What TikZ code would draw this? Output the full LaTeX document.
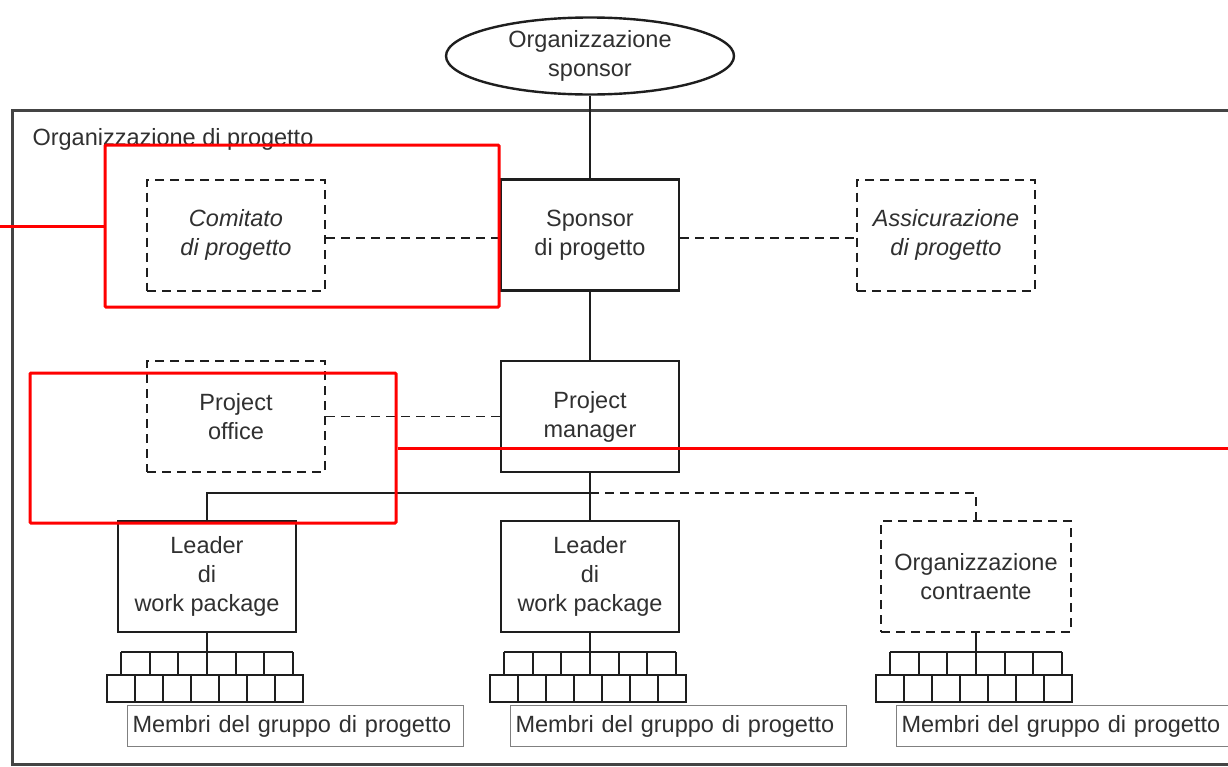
\documentclass[tikz,border=0pt]{standalone}
\usepackage{fontspec}
\setmainfont{Liberation Sans}
\usetikzlibrary{shapes.geometric}
\definecolor{ink}{HTML}{1E1E1E}
\definecolor{txt}{HTML}{303030}
\definecolor{framec}{HTML}{444444}
\definecolor{redmark}{HTML}{FF0000}
\tikzset{
  every node/.style={font=\fontsize{23.5}{29}\selectfont, text=txt, align=center},
  solidbox/.style={draw=ink, line width=2.3pt, minimum width=178pt, minimum height=111pt, inner sep=0pt},
  wpbox/.style={solidbox, line width=2.8pt},
  dashbox/.style={solidbox, line width=2pt, dash pattern=on 9pt off 6pt},
  conn/.style={draw=ink, line width=1.9pt},
  dconn/.style={conn, dash pattern=on 9pt off 6pt},
  memberbox/.style={draw=ink, line width=1.5pt, minimum width=28pt, minimum height=27pt, inner sep=0pt},
  labelbox/.style={draw=gray, line width=1pt, text width=326pt, align=left, inner xsep=5pt, minimum height=41pt, inner ysep=0pt, anchor=north west},
  redbox/.style={draw=redmark, line width=3pt, rounded corners=1pt},
  redline/.style={draw=redmark, line width=3pt}
}
\begin{document}
\begin{tikzpicture}[x=1pt, y=-1pt]
\useasboundingbox (0,0) rectangle (1228,766);
\fill[white] (0,0) rectangle (1228,766);

% frame
\draw[framec, line width=3pt] (1235,110) -- (12,110) -- (12,764) -- (1235,764);
\node[anchor=west] (framelab) at (29,139) {Organizzazione di progetto};

% top
\node[ellipse, draw=ink, line width=2.4pt, minimum width=288pt, minimum height=77pt, inner sep=0pt, fill=white] (org) at (590,56) {Organizzazione\\sponsor};

\node[solidbox] (sp) at (590,235) {Sponsor\\di progetto};
\node[dashbox] (com) at (236,235) {\itshape Comitato\\\itshape di progetto};
\node[dashbox] (ass) at (946,235) {\itshape Assicurazione\\\itshape di progetto};

\node[solidbox] (pm) at (590,416.5) {Project\\manager};
\node[dashbox] (po) at (236,416.5) {Project\\office};

\node[wpbox] (wp1) at (207,576.5) {Leader\\di\\work package};
\node[wpbox] (wp2) at (590,576.5) {Leader\\di\\work package};
\node[dashbox, minimum width=190pt] (ctr) at (976,576.5) {Organizzazione\\contraente};

% connectors
\draw[conn] (org) -- (sp);
\draw[conn] (sp) -- (pm);
\draw[dconn] ([yshift=-3pt]com.east) -- ([yshift=-3pt]sp.west);
\draw[dconn] ([yshift=-3pt]sp.east) -- ([yshift=-3pt]ass.west);
\draw[dconn] (po.east) -- (pm.west);
\coordinate (j) at (590,493);
\draw[conn] (pm.south) -- (j) -- (wp2.north);
\draw[conn] (j) -| (wp1.north);
\draw[dconn] (j) -| (ctr.north);

% team members
\foreach \cx/\p/\g in {207/wp1/ga, 590/wp2/gb, 976/ctr/gc}{
  \coordinate (\g-top) at (\cx,652);
  \draw[conn] (\p.south) -- (\g-top);
  \draw[conn] ({\cx-86},652) -- ({\cx+86},652);
  \foreach \k in {0,...,6}{
    \draw[conn] ({\cx-86+\k*28.667},652) -- ({\cx-86+\k*28.667},675);
  }
  \foreach \k in {0,...,6}{
    \node[memberbox] (\g-m\k) at ({\cx-100+14+\k*28},688.5) {};
  }
  \node[labelbox] (\g-lab) at ({\cx-80},705) {Membri del gruppo di progetto};
}

% red annotations
\node[redbox, minimum width=394pt, minimum height=162pt, inner sep=0pt] (r1) at (302,226) {};
\node[redbox, minimum width=366pt, minimum height=150pt, inner sep=0pt] (r2) at (213,448) {};
\coordinate (r1end) at (0,226);
\coordinate (r2end) at (1230,448);
\draw[redline] (r1end) -- (r1.west);
\draw[redline] (r2.east) -- (r2end);
\end{tikzpicture}
\end{document}
